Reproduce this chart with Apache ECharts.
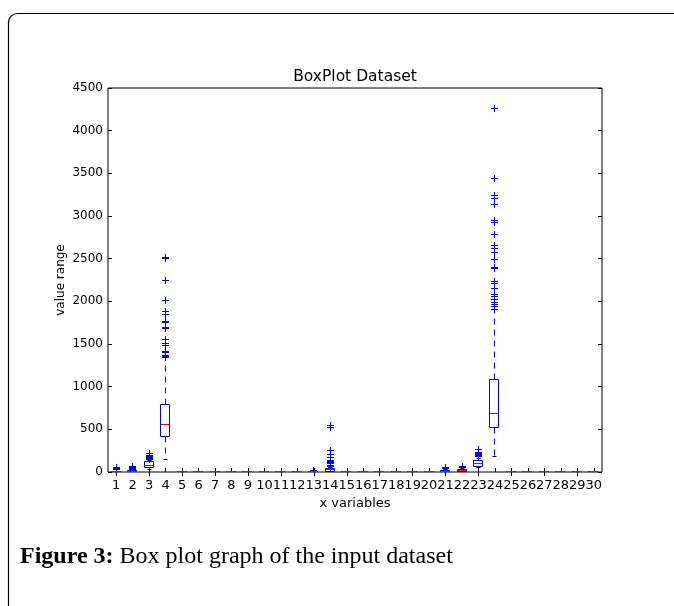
<!DOCTYPE html>
<html>
<head>
<meta charset="utf-8">
<script src="https://cdn.jsdelivr.net/npm/echarts@6/dist/echarts.min.js"></script>
<style>
html,body{margin:0;padding:0;background:#fff;}
#c{width:674px;height:606px;}
</style>
</head>
<body>
<div id="c"></div>
<script>
// ---- data ----
const categories = ['1','2','3','4','5','6','7','8','9','10','11','12','13','14','15','16','17','18','19','20','21','22','23','24','25','26','27','28','29','30'];
const whiskerLow  = [0, 0, 35, 141, 0,0,0,0,0,0,0,0, 0, 0, 0,0,0,0,0,0, 0, 0, 47, 180, 0,0,0,0,0,0];
const quartile1   = [2, 3, 58, 411, 0,0,0,0,0,0,0,0, 1, 8, 0,0,0,0,0,0, 3, 5, 70, 517, 0,0,0,0,0,0];
const medians     = [5, 6, 82, 552, 1,1,1,1,1,1,1,1, 3, 24, 1,1,1,1,1,1, 8, 14, 94, 685, 1,1,1,1,1,1];
const quartile3   = [10, 12, 120, 787, 2,2,2,2,2,2,2,2, 6, 40, 2,2,2,2,2,2, 18, 28, 129, 1081, 2,2,2,2,2,2];
const whiskerHigh = [25, 28, 140, 1340, 4,4,4,4,4,4,4,4, 12, 55, 4,4,4,4,4,4, 30, 45, 160, 1904, 4,4,4,4,4,4];
const outliers = {
  '1':  [32, 40, 48, 55],
  '2':  [34, 42, 50, 60],
  '3':  [148, 155, 162, 170, 178, 186, 195, 222],
  '4':  [1345, 1352, 1370, 1395, 1415, 1480, 1505, 1550, 1680, 1692, 1750, 1768, 1845, 1880, 2010, 2250, 2500, 2515],
  '13': [18, 22],
  '14': [62, 70, 82, 95, 110, 121, 140, 165, 200, 247, 525, 545],
  '21': [36, 42, 48],
  '22': [52, 60, 70],
  '23': [176, 185, 195, 205, 215, 230, 258],
  '24': [1910, 1943, 1965, 1990, 2021, 2060, 2085, 2150, 2209, 2236, 2385, 2401, 2491, 2573, 2625, 2650, 2785, 2925, 2953, 3137, 3210, 3243, 3440, 4255]
};
const yTicks = {min: 0, max: 4500, interval: 500};

// ---- build ----
const boxData = categories.map((c, i) => [i, whiskerLow[i], quartile1[i], medians[i], quartile3[i], whiskerHigh[i]]);
const outlierData = [];
categories.forEach((c, i) => { (outliers[c] || []).forEach(v => outlierData.push([i, v])); });

const BLUE = '#0000ff', RED = '#ff0000';
const snap = v => Math.round(v - 0.5) + 0.5;

function renderBox(params, api) {
  const i = api.value(0);
  const yLow = snap(api.coord([i, api.value(1)])[1]);
  const yQ1 = snap(api.coord([i, api.value(2)])[1]);
  const yMed = Math.floor(api.coord([i, api.value(3)])[1]);
  const yQ3 = snap(api.coord([i, api.value(4)])[1]);
  const yHigh = snap(api.coord([i, api.value(5)])[1]);
  const band = api.size([1, 0])[0];
  const bw = Math.round(band * 0.55);
  const cx = snap(api.coord([i, 0])[0]);
  const x0 = cx - Math.round(bw / 2), x1 = x0 + bw;
  const cw = Math.round(bw / 4);
  const dash = {stroke: BLUE, fill: null, lineWidth: 1, lineDash: [6, 5]};
  return {
    type: 'group',
    children: [
      {type: 'line', z2: 1, shape: {x1: cx, y1: yQ3, x2: cx, y2: yHigh}, style: dash},
      {type: 'line', z2: 1, shape: {x1: cx, y1: yQ1, x2: cx, y2: yLow}, style: dash},
      {type: 'line', z2: 2, shape: {x1: cx - cw, y1: yHigh, x2: cx + cw, y2: yHigh}, style: {stroke: '#000', fill: null, lineWidth: 1}},
      {type: 'line', z2: 2, shape: {x1: cx - cw, y1: yLow, x2: cx + cw, y2: yLow}, style: {stroke: '#000', fill: null, lineWidth: 1}},
      {type: 'rect', z2: 3, shape: {x: x0, y: yQ3, width: bw, height: yQ1 - yQ3}, style: {fill: null, stroke: BLUE, lineWidth: 1}},
      {type: 'rect', z2: 4, shape: {x: x0 + 0.5, y: yMed, width: bw - 1, height: 1}, style: {fill: RED, stroke: null, lineWidth: 0}}
    ]
  };
}

function renderPlus(params, api) {
  const p = api.coord([api.value(0), api.value(1)]);
  const x = snap(p[0]), y = snap(p[1]);
  const h = 3.5;
  return {
    type: 'group',
    children: [
      {type: 'line', shape: {x1: x - h, y1: y, x2: x + h, y2: y}, style: {stroke: BLUE, fill: null, lineWidth: 1}},
      {type: 'line', shape: {x1: x, y1: y - h, x2: x, y2: y + h}, style: {stroke: BLUE, fill: null, lineWidth: 1}}
    ]
  };
}

const FONT = 'DejaVu Sans';
const chart = echarts.init(document.getElementById('c'), null, {renderer: 'canvas'});
chart.setOption({
  animation: false,
  backgroundColor: '#fff',
  grid: {left: 108, right: 72, top: 88, bottom: 134, show: true, borderColor: '#000', borderWidth: 1, backgroundColor: 'transparent'},
  xAxis: [{
    type: 'category', data: categories, position: 'bottom',
    name: 'x variables', nameLocation: 'middle', nameGap: 22,
    nameTextStyle: {fontFamily: FONT, fontSize: 13, color: '#000'},
    axisLine: {show: false},
    axisTick: {show: true, inside: true, alignWithLabel: true, length: 4, lineStyle: {color: '#000'}},
    axisLabel: {interval: 0, fontFamily: FONT, fontSize: 13, color: '#000', margin: 7},
    splitLine: {show: false}
  }, {
    type: 'category', data: categories, position: 'top',
    axisLine: {show: false},
    axisTick: {show: true, inside: true, alignWithLabel: true, length: 4, lineStyle: {color: '#000'}},
    axisLabel: {show: false}, splitLine: {show: false}
  }],
  yAxis: [{
    type: 'value', min: yTicks.min, max: yTicks.max, interval: yTicks.interval, position: 'left',
    name: 'value range', nameLocation: 'middle', nameGap: 41, nameRotate: 90, nameMoveOverlap: false,
    nameTextStyle: {fontFamily: FONT, fontSize: 12, color: '#000'},
    axisLine: {show: false},
    axisTick: {show: true, inside: true, length: 4, lineStyle: {color: '#000'}},
    axisLabel: {fontFamily: FONT, fontSize: 12, color: '#000', margin: 5, formatter: v => String(v)},
    splitLine: {show: false}
  }, {
    type: 'value', min: yTicks.min, max: yTicks.max, interval: yTicks.interval, position: 'right',
    axisLine: {show: false},
    axisTick: {show: true, inside: true, length: 4, lineStyle: {color: '#000'}},
    axisLabel: {show: false}, splitLine: {show: false}
  }],
  graphic: [
    {type: 'rect', shape: {x: 8.5, y: 13.5, width: 720, height: 700, r: 9}, style: {fill: null, stroke: '#000', lineWidth: 1.2}, z: 0},
    {type: 'text', x: 355, y: 77, style: {
      text: 'BoxPlot Dataset', fontFamily: FONT, fontSize: 15.5, fill: '#000', align: 'center', verticalAlign: 'middle'
    }},
    {type: 'text', left: 20, top: 545, style: {
      text: '{b|Figure 3:} Box plot graph of the input dataset',
      fontFamily: 'Liberation Serif', fontSize: 24, fill: '#000',
      rich: {b: {fontFamily: 'Liberation Serif', fontSize: 24, fontWeight: 'bold', fill: '#000'}}
    }}
  ],
  series: [
    {type: 'custom', xAxisIndex: 0, yAxisIndex: 0, renderItem: renderBox, data: boxData, encode: {x: 0, y: [1,2,3,4,5]}, clip: true, silent: true},
    {type: 'custom', xAxisIndex: 0, yAxisIndex: 0, renderItem: renderPlus, data: outlierData, encode: {x: 0, y: 1}, clip: true, silent: true}
  ]
});
</script>
</body>
</html>
